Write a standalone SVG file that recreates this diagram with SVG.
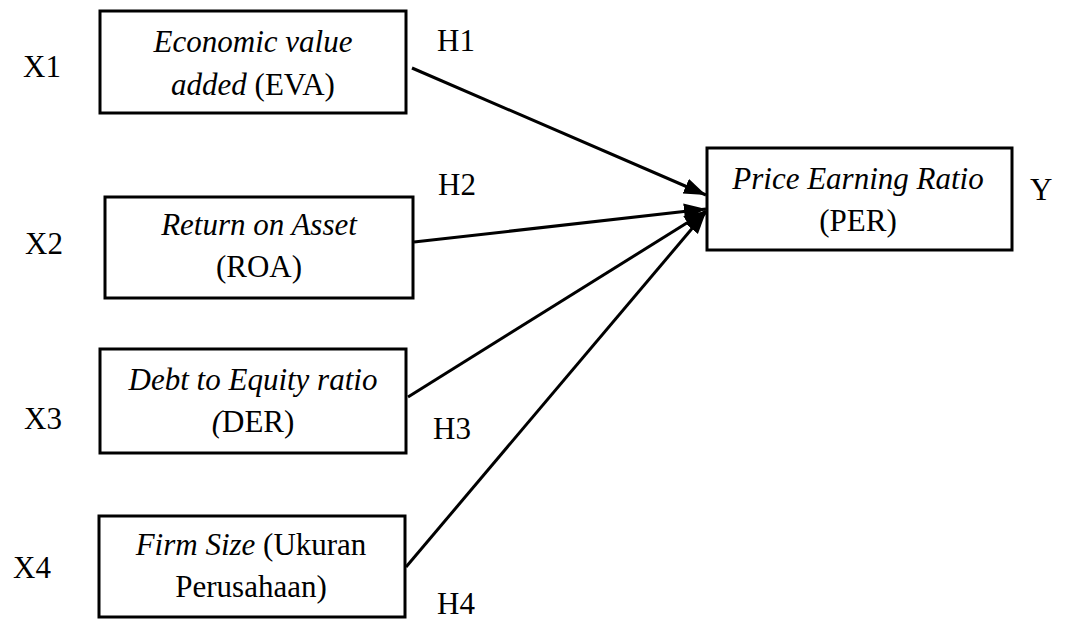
<svg xmlns="http://www.w3.org/2000/svg" width="1079" height="619" viewBox="0 0 1079 619">
<style>
text{font-family:"Liberation Serif","Times New Roman",serif;font-size:31px;fill:#000}
.c{text-anchor:middle}
.i{font-style:italic}
rect{fill:#fff;stroke:#000;stroke-width:3}
.e{stroke:#000;stroke-width:3;fill:none}
</style>
<defs>
<marker id="ah" markerUnits="userSpaceOnUse" markerWidth="24" markerHeight="18" refX="22" refY="8" orient="auto">
<path d="M0,0 L22,8 L0,16 z" fill="#000"/>
</marker>
</defs>
<g id="connectors">
<line class="e" x1="412" y1="68" x2="706" y2="195" marker-end="url(#ah)"/>
<line class="e" x1="414" y1="242" x2="706" y2="209" marker-end="url(#ah)"/>
<line class="e" x1="408" y1="397" x2="706" y2="211" marker-end="url(#ah)"/>
<line class="e" x1="406" y1="567" x2="706" y2="212" marker-end="url(#ah)"/>
</g>
<g id="eva">
<rect x="100" y="11" width="306" height="102"/>
<text class="c i" x="253" y="52">Economic value</text>
<text class="c" x="253" y="95"><tspan class="i">added</tspan> (EVA)</text>
</g>
<g id="roa">
<rect x="105" y="197" width="308" height="101"/>
<text class="c i" x="259" y="235">Return on Asset</text>
<text class="c" x="259" y="277">(ROA)</text>
</g>
<g id="der">
<rect x="100" y="349" width="306" height="104"/>
<text class="c i" x="253" y="390">Debt to Equity ratio</text>
<text class="c" x="253" y="432"><tspan class="i">(</tspan>DER)</text>
</g>
<g id="size">
<rect x="99" y="516" width="306" height="101"/>
<text class="c" x="251" y="555"><tspan class="i">Firm Size</tspan> (Ukuran</text>
<text class="c" x="251" y="597">Perusahaan)</text>
</g>
<g id="per">
<rect x="707" y="148" width="305" height="102"/>
<text class="c i" x="858" y="189">Price Earning Ratio</text>
<text class="c" x="858" y="231">(PER)</text>
</g>
<g id="labels">
<text x="23" y="77">X1</text>
<text x="25" y="254">X2</text>
<text x="24" y="429">X3</text>
<text x="13" y="578">X4</text>
<text x="437" y="51">H1</text>
<text x="438" y="195">H2</text>
<text x="433" y="439">H3</text>
<text x="437" y="614">H4</text>
<text x="1030" y="200">Y</text>
</g>
</svg>
